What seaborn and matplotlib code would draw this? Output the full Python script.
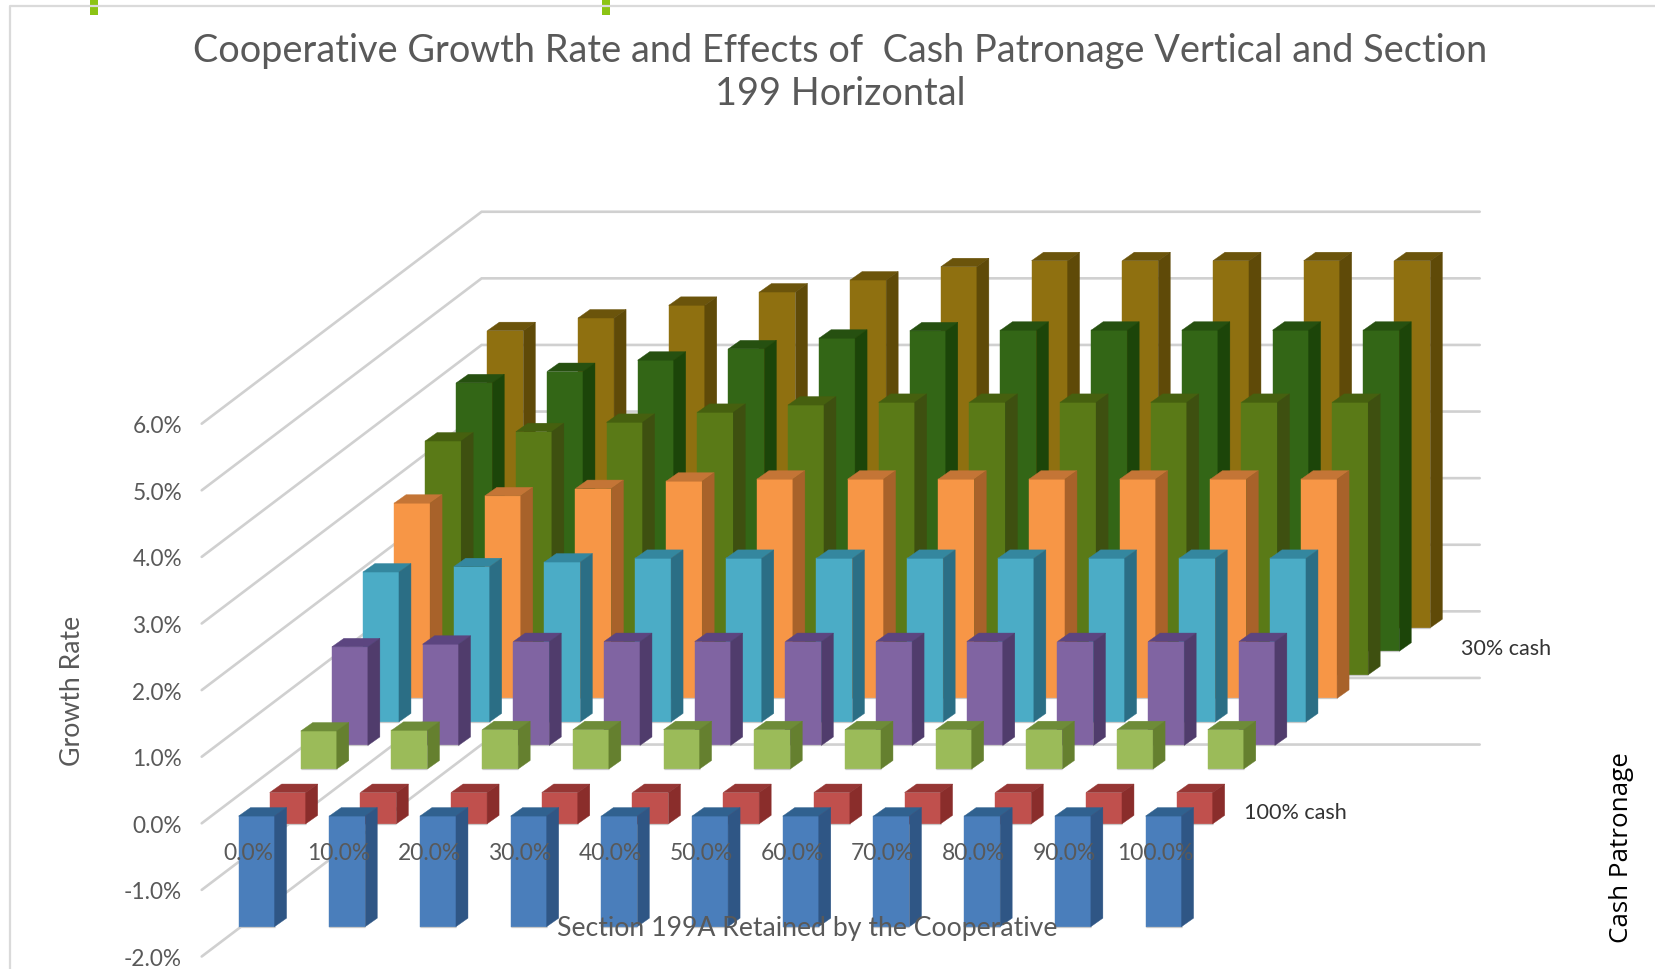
import numpy as np
import matplotlib
matplotlib.use("Agg")
import matplotlib.pyplot as plt
from matplotlib.patches import Polygon, Rectangle
import seaborn as sns

# Growth rate (%) by share of Section 199A retained, one list per cash patronage level,
# ordered from the front row (100% cash side) to the back row.
section_199a_labels = ["0.0%", "10.0%", "20.0%", "30.0%", "40.0%", "50.0%",
                       "60.0%", "70.0%", "80.0%", "90.0%", "100.0%"]
growth_labels = ["-2.0%", "-1.0%", "0.0%", "1.0%", "2.0%", "3.0%", "4.0%", "5.0%", "6.0%"]
growth_ticks = [-2, -1, 0, 1, 2, 3, 4, 5, 6]

row_blue = [-1.66] * 11
row_red = [-0.47] * 11
row_light_green = [0.57, 0.58, 0.59, 0.59, 0.59, 0.59, 0.59, 0.59, 0.59, 0.59, 0.59]
row_purple = [1.48, 1.52, 1.56, 1.56, 1.56, 1.56, 1.56, 1.56, 1.56, 1.56, 1.56]
row_cyan = [2.25, 2.33, 2.40, 2.455, 2.455, 2.455, 2.455, 2.455, 2.455, 2.455, 2.455]
row_orange = [2.93, 3.04, 3.15, 3.26, 3.29, 3.29, 3.29, 3.29, 3.29, 3.29, 3.29]
row_olive = [3.51, 3.65, 3.79, 3.94, 4.05, 4.09, 4.09, 4.09, 4.09, 4.09, 4.09]
row_dark_green = [4.03, 4.20, 4.37, 4.54, 4.70, 4.81, 4.82, 4.82, 4.82, 4.82, 4.82]
row_gold = [4.46, 4.65, 4.84, 5.04, 5.22, 5.42, 5.51, 5.51, 5.51, 5.51, 5.51]

rows = [row_blue, row_red, row_light_green, row_purple, row_cyan,
        row_orange, row_olive, row_dark_green, row_gold]

# (front face, side face, top face)
row_colors = [
    ("#4A7EBB", "#2F5685", "#30618F"),
    ("#C0504D", "#8A2D2B", "#963634"),
    ("#9BBB59", "#65802F", "#6E8C38"),
    ("#8064A2", "#503C6C", "#5C4580"),
    ("#4BACC6", "#2B6E85", "#34879F"),
    ("#F79646", "#A8622A", "#C47536"),
    ("#5A7A17", "#3E5010", "#46600F"),
    ("#336616", "#1C4509", "#265010"),
    ("#8F7010", "#5F4A08", "#6B540B"),
]

W, H = 1656, 970
PX_X, PX_Y = 90.7, 66.6          # pixels per category slot / per percentage point
X0_PX, Y0_PX = 201.7, 824.3      # front-left corner of the zero level

# Oblique projection of the depth axis, expressed in axis units per row.
ROW_DX, ROW_DY = 31.1 / PX_X, 23.55 / PX_Y
BAR_W = 36 / PX_X
BAR_DX, BAR_DY = 12 / PX_X, 8.5 / PX_Y
ROW_INSET = 0.306
N_ROWS = len(rows)
WALL_RIGHT = 1278 / PX_X

sns.set_theme(style="white")
plt.rcParams["font.family"] = ["Lato", "DejaVu Sans"]

fig = plt.figure(figsize=(W / 100, H / 100), dpi=100, facecolor="white")
ax = fig.add_axes([0, 0, 1, 1])

# Side and back walls with their gridlines
for level in growth_ticks:
    ax.plot([0, N_ROWS * ROW_DX, WALL_RIGHT],
            [level, level + N_ROWS * ROW_DY, level + N_ROWS * ROW_DY],
            color="#D0D0D0", lw=1.9, solid_joinstyle="miter", zorder=0.5)

# Bars are drawn back to front so that nearer rows hide farther ones
slots = np.arange(len(section_199a_labels)) + 0.5
for r in range(N_ROWS - 1, -1, -1):
    front, side, top = row_colors[r]
    values = np.array(rows[r])
    base = (r + ROW_INSET) * ROW_DY
    xs = slots + (r + ROW_INSET) * ROW_DX
    sns.barplot(x=xs, y=values, bottom=base, native_scale=True, width=BAR_W,
                color=front, saturation=1, errorbar=None, legend=False, ax=ax,
                linewidth=0.3, edgecolor=front)
    # faint light rim along the foot of each bar
    ax.hlines(base + np.minimum(values, 0), xs - BAR_W / 2, xs + BAR_W / 2,
              color="#C9C9C9", lw=0.9, zorder=1)
    for x, v in zip(xs, values):
        x0, x1 = x - BAR_W / 2, x + BAR_W / 2
        hi, lo = base + max(v, 0), base + min(v, 0)
        ax.add_patch(Polygon([(x0, hi), (x1, hi), (x1 + BAR_DX, hi + BAR_DY), (x0 + BAR_DX, hi + BAR_DY)],
                             closed=True, facecolor=top, edgecolor=top, lw=0.3))
        ax.add_patch(Polygon([(x1, lo), (x1, hi), (x1 + BAR_DX, hi + BAR_DY), (x1 + BAR_DX, lo + BAR_DY)],
                             closed=True, facecolor=side, edgecolor=side, lw=0.3))

ax.set_xlim(-X0_PX / PX_X, (W - X0_PX) / PX_X)
ax.set_ylim((Y0_PX - H) / PX_Y, Y0_PX / PX_Y)
ax.set_xlabel("")
ax.set_ylabel("")
ax.set_xticks([])
ax.set_yticks([])
sns.despine(fig=fig, ax=ax, left=True, bottom=True)

GREY = "#595959"


def fx(px):
    return px / W


def fy(py):
    return 1 - py / H


# Growth rate axis labels
for tick, label in zip(growth_ticks, growth_labels):
    ax.text(fx(182), tick - 0.03, label, transform=ax.get_yaxis_transform(), ha="right", va="center",
            fontsize=16.3, color=GREY, zorder=5)

# Section 199A axis labels sit on the floor, over the front row
for slot, label in zip(slots, section_199a_labels):
    ax.text(slot + 0.01, -0.445, label, ha="center", va="center", fontsize=16.5, color=GREY, zorder=5)

fig.text(fx(840), fy(51), "Cooperative Growth Rate and Effects of  Cash Patronage Vertical and Section",
         ha="center", va="center", fontsize=27.3, color=GREY)
fig.text(fx(840), fy(94), "199 Horizontal", ha="center", va="center", fontsize=27.3, color=GREY)
fig.text(fx(73), fy(691), "Growth Rate", rotation=90, ha="center", va="center", fontsize=19.2, color=GREY)
fig.text(fx(807), fy(929), "Section 199A Retained by the Cooperative", ha="center", va="center",
         fontsize=19.2, color=GREY, zorder=5)
fig.text(fx(1506), fy(649), "30% cash", ha="center", va="center", fontsize=15.5, color="#333333")
fig.text(fx(1295), fy(813), "100% cash", ha="center", va="center", fontsize=15.6, color="#333333")
fig.text(fx(1622), fy(848), "Cash Patronage", rotation=90, ha="center", va="center", fontsize=18.7,
         color="black", family=["Open Sans", "DejaVu Sans"])

# Slide frame and its green accent marks
fig.add_artist(plt.Line2D([fx(10), fx(10), fx(W)], [0, fy(7), fy(7)], color="#DADADA", lw=1.6))
for left in (90.5, 602.5):
    fig.add_artist(Rectangle((fx(left), fy(16)), 8 / W, 16 / H, transform=fig.transFigure,
                             facecolor="#8CC414", edgecolor="none"))

fig.savefig("out.png", dpi=100)
